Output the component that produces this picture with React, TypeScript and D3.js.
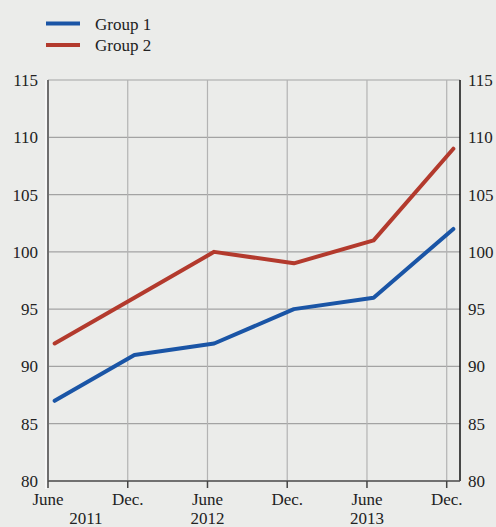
import React from 'react';
import * as d3 from 'd3';

// months counted from June 2011 (0) ; points sit mid-month
const pointMonths = [0.5, 6.5, 12.5, 18.5, 24.5, 30.5];
const group1 = [87, 91, 92, 95, 96, 102];
const group2 = [92, 96, 100, 99, 101, 109];
const seriesNames = ['Group 1', 'Group 2'];
const seriesColors = ['#1a55a6', '#b33a2d'];

const xTickMonths = [0, 6, 12, 18, 24, 30];
const xTickLabels = ['June', 'Dec.', 'June', 'Dec.', 'June', 'Dec.'];
const yearLabels = [
  { month: 0, label: '2011' },
  { month: 12, label: '2012' },
  { month: 24, label: '2013' },
];
const yTicks = [80, 85, 90, 95, 100, 105, 110, 115];

const W = 496;
const H = 527;
const margin = { top: 80, right: 36, bottom: 46, left: 48 };

export default function App() {
  const x = d3.scaleLinear().domain([0, 31]).range([margin.left, W - margin.right]);
  const y = d3.scaleLinear().domain([80, 115]).range([H - margin.bottom, margin.top]);

  const line = d3.line<number>()
    .x((_, i) => x(pointMonths[i]))
    .y(d => y(d));

  const series = [group1, group2];
  const font = "'Times New Roman', 'Liberation Serif', Times, serif";
  const fs = 17;
  const x0 = x.range()[0];
  const x1 = x.range()[1];
  const yb = y.range()[0];
  const yt = y.range()[1];

  return (
    <div style={{ position: 'absolute', left: 0, top: 0, width: W, height: H }}>
      <svg width={W} height={H} style={{ display: 'block', background: '#ebecea', fontFamily: font }}>
        {/* legend */}
        {seriesNames.map((name, i) => (
          <g key={name} transform={`translate(46,${23.5 + i * 21.5})`}>
            <line x1={0} x2={34} y1={0} y2={0} stroke={seriesColors[i]} strokeWidth={4} />
            <text x={49} y={6} fontSize={fs} fill="#222" fontFamily={font}>{name}</text>
          </g>
        ))}

        {/* grid */}
        {yTicks.map(t => (
          <line key={'h' + t} x1={x0} x2={x1} y1={y(t)} y2={y(t)} stroke="#a3a3a3" strokeWidth={1.2} />
        ))}
        {xTickMonths.slice(1).map(m => (
          <line key={'v' + m} x1={x(m)} x2={x(m)} y1={yt} y2={yb} stroke="#b3b3b3" strokeWidth={1.2} />
        ))}

        {/* axes */}
        <line x1={x0 - 2} x2={x0 - 2} y1={yt} y2={yb + 8} stroke="#ffffff" strokeWidth={1.2} />
        <line x1={x0} x2={x0} y1={yt} y2={yb} stroke="#6e6e6e" strokeWidth={2} />
        <line x1={x1} x2={x1} y1={yt} y2={yb} stroke="#111" strokeWidth={1.5} />
        <line x1={x0} x2={x1} y1={yb} y2={yb} stroke="#555" strokeWidth={1.5} />
        {xTickMonths.map((m, i) => (
          <g key={'xt' + i}>
            <line x1={x(m)} x2={x(m)} y1={yb} y2={yb + 7} stroke="#444" strokeWidth={1.5} />
            <text x={x(m)} y={505} textAnchor="middle" fontSize={fs} fill="#222" fontFamily={font}>{xTickLabels[i]}</text>
          </g>
        ))}
        {yearLabels.map((d, i) => {
          // first year label is nudged inside so it isn't clipped at the edge
          const cx = i === 0 ? (x(xTickMonths[0]) + x(xTickMonths[1])) / 2 - 2 : x(d.month);
          return (
            <text key={d.label} x={cx} y={524} textAnchor="middle" fontSize={fs} fill="#222" fontFamily={font}>{d.label}</text>
          );
        })}
        {yTicks.map(t => (
          <g key={'yt' + t}>
            <text x={38} y={y(t)} dy="0.35em" textAnchor="end" fontSize={fs} fill="#222" fontFamily={font}>{t}</text>
            <text x={468} y={y(t)} dy="0.35em" textAnchor="start" fontSize={fs} fill="#222" fontFamily={font}>{t}</text>
          </g>
        ))}

        {/* series */}
        {series.map((s, i) => (
          <path key={i} d={line(s) ?? ''} fill="none" stroke={seriesColors[i]} strokeWidth={4} strokeLinejoin="round" strokeLinecap="round" />
        ))}
      </svg>
    </div>
  );
}
